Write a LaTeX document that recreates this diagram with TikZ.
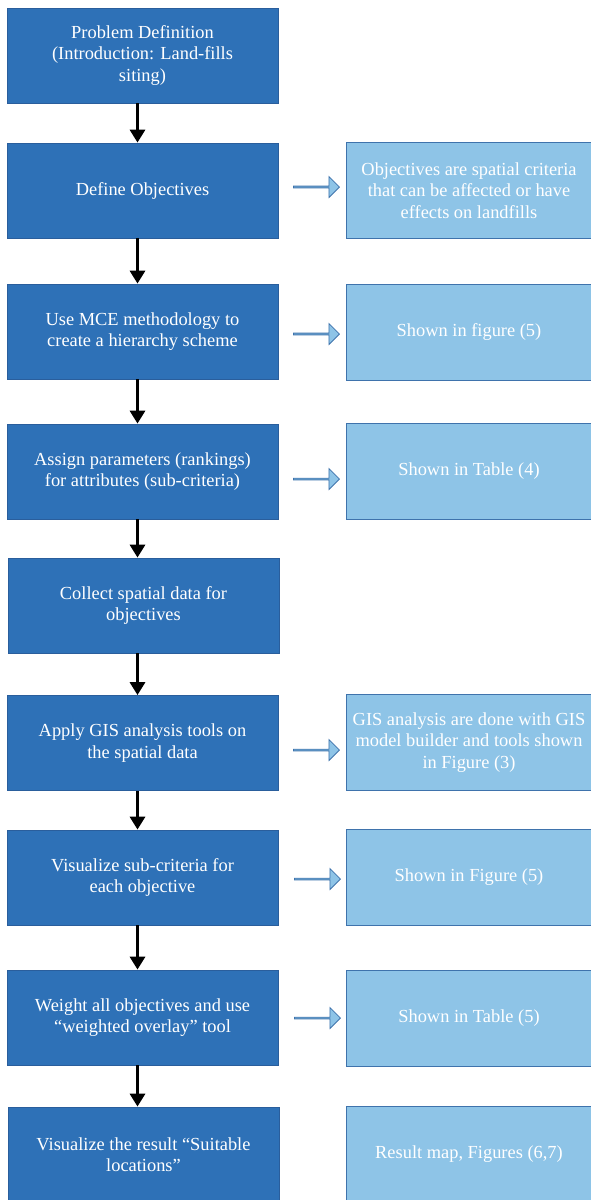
\documentclass[tikz,border=0pt]{standalone}
\usepackage{fontspec}
\setmainfont{Liberation Serif}
\usetikzlibrary{arrows.meta,shapes.arrows}
\definecolor{stepblue}{HTML}{2E71B7}
\definecolor{stepline}{HTML}{2A5E9C}
\definecolor{noteblue}{HTML}{8EC4E7}
\definecolor{noteline}{HTML}{3F73AC}
\tikzset{
  stepbox/.style = {draw=stepline,fill=stepblue,text=white,line width=0.8pt,
    minimum width=271pt,minimum height=95pt,align=center,
    font=\fontsize{18.4}{21.5}\selectfont},
  notebox/.style = {draw=noteline,fill=noteblue,text=white,line width=0.8pt,
    minimum width=246pt,minimum height=96pt,align=center,
    font=\fontsize{18.4}{21.5}\selectfont},
  hint/.style = {single arrow,draw=noteline,fill=noteblue,line width=0.8pt,
    minimum height=46pt,minimum width=21pt,single arrow head extend=4.5pt,inner sep=0pt},
  flow/.style = {line width=3.8pt,-{Triangle[length=13pt,width=15pt]}}
}

\begin{document}
\begin{tikzpicture}[x=1pt,y=-1pt]
  \useasboundingbox (0,0) rectangle (590,1200);
  % main steps
  \node[stepbox] (s1) at (142.5,55.5) {Problem Definition\\(Introduction: Land-fills\\siting)};
  \node[stepbox] (s2) at (142.5,190.5) {Define Objectives};
  \node[stepbox] (s3) at (142.5,331.5) {Use MCE methodology to\\create a hierarchy scheme};
  \node[stepbox] (s4) at (142.5,471.5) {Assign parameters (rankings)\\for attributes (sub-criteria)};
  \node[stepbox] (s5) at (143.5,605.5) {Collect spatial data for\\objectives};
  \node[stepbox] (s6) at (142.5,743) {Apply GIS analysis tools on\\the spatial data};
  \node[stepbox] (s7) at (142.5,877.5) {Visualize sub-criteria for\\each objective};
  \node[stepbox] (s8) at (142.5,1017.5) {Weight all objectives and use\\``weighted overlay'' tool};
  \node[stepbox] (s9) at (143.5,1154.5) {Visualize the result ``Suitable\\locations''};
  % notes
  \node[notebox] (n2) at (469,190.5) {Objectives are spatial criteria\\that can be affected or have\\effects on landfills};
  \node[notebox] (n3) at (469,332.5) {Shown in figure (5)};
  \node[notebox] (n4) at (469,471.5) {Shown in Table (4)};
  \node[notebox] (n6) at (469,742.5) {GIS analysis are done with GIS\\model builder and tools shown\\in Figure (3)};
  \node[notebox] (n7) at (469,877.5) {Shown in Figure (5)};
  \node[notebox] (n8) at (469,1018.5) {Shown in Table (5)};
  \node[notebox] (n9) at (469,1154.5) {Result map, Figures (6,7)};
  % block arrows
  \node[hint] (h2) at (316,187) {};
  \node[hint] (h3) at (316,334) {};
  \node[hint] (h4) at (316,479) {};
  \node[hint] (h6) at (316,750) {};
  \node[hint] (h7) at (317,879) {};
  \node[hint] (h8) at (317,1018) {};
  % flow
  \draw[flow] ([xshift=-5pt]s1.south) -- ([xshift=-5pt]s2.north);
  \draw[flow] ([xshift=-5pt]s2.south) -- ([xshift=-5pt]s3.north);
  \draw[flow] ([xshift=-5pt]s3.south) -- ([xshift=-5pt]s4.north);
  \draw[flow] ([xshift=-5pt]s4.south) -- ([xshift=-6pt]s5.north);
  \draw[flow] ([xshift=-6pt]s5.south) -- ([xshift=-5pt]s6.north);
  \draw[flow] ([xshift=-5pt]s6.south) -- ([xshift=-5pt]s7.north);
  \draw[flow] ([xshift=-5pt]s7.south) -- ([xshift=-5pt]s8.north);
  \draw[flow] ([xshift=-5pt]s8.south) -- ([xshift=-6pt]s9.north);
\end{tikzpicture}
\end{document}
